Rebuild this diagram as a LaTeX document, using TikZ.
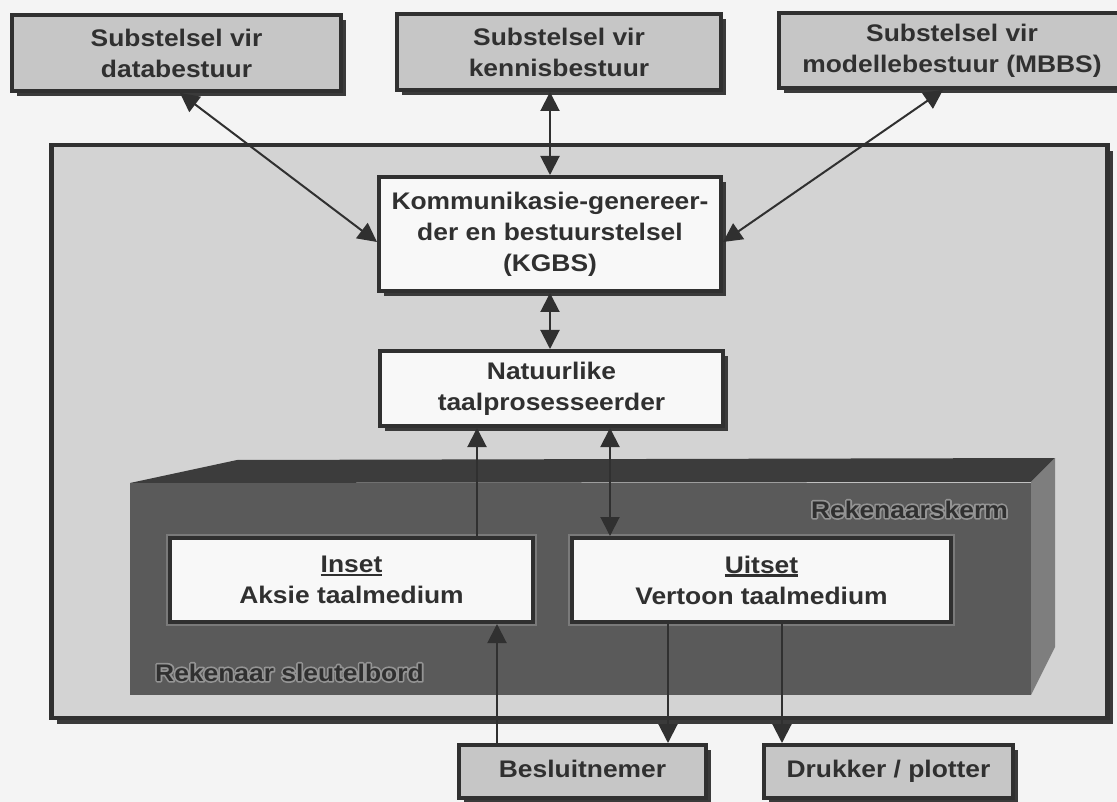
\documentclass[tikz,border=0pt]{standalone}
\usepackage{fontspec}
\setmainfont{Liberation Sans}[FakeStretch=1.1]
\usetikzlibrary{arrows.meta,shadows}

\definecolor{pagebg}{HTML}{F4F4F4}
\definecolor{ink}{HTML}{303030}
\definecolor{boxgrey}{HTML}{C6C6C6}
\definecolor{panelgrey}{HTML}{D3D3D3}
\definecolor{shade}{HTML}{3A3A3A}
\definecolor{frontface}{HTML}{5A5A5A}
\definecolor{topface}{HTML}{3C3C3C}
\definecolor{sideface}{HTML}{7E7E7E}
\definecolor{glowgrey}{HTML}{7A7A7A}
\definecolor{paperwhite}{HTML}{F8F8F8}

\newcommand\bxfont{\fontsize{24}{31}\selectfont\bfseries}
\newcommand\ulword[1]{\setbox0\hbox{#1}\rlap{\rule[-3.5pt]{\wd0}{2.2pt}}\box0}
% light outline drawn behind dark lettering (stroke-only text rendering)
\newcommand\halolayer[1]{\special{pdf:literal direct 1 Tr 1 j 3.4 w 0.58 G}#1\special{pdf:literal direct 0 Tr 0 j 0.188 G}}

\tikzset{
  box/.style={draw=ink, line width=4pt, text=ink, font=\bxfont, align=center, inner sep=0pt},
  shadowed/.style={drop shadow={shadow xshift=5pt, shadow yshift=-5pt, fill=shade, opacity=1}},
  greybox/.style={box, shadowed, fill=boxgrey},
  whitebox/.style={box, shadowed, fill=paperwhite},
  mediumbox/.style={box, fill=paperwhite, preaction={draw=glowgrey, line width=8pt}},
  panelbox/.style={draw=ink, line width=4.5pt, fill=panelgrey,
    drop shadow={shadow xshift=6pt, shadow yshift=-6pt, fill=shade, opacity=1}},
  link/.style={draw=ink, line width=2pt},
  twoway/.style={link, {Triangle[width=19pt,length=19pt]}-{Triangle[width=19pt,length=19pt]}},
  oneway/.style={link, -{Triangle[width=19pt,length=19pt]}},
  glowlabel/.style={text=ink, font=\bxfont, inner sep=0pt}
}

\begin{document}
\begin{tikzpicture}[x=1pt,y=-1pt]
\useasboundingbox (0,0) rectangle (1117,802);
\clip (0,0) rectangle (1117,802);
\fill[pagebg] (0,0) rectangle (1117,802);

% outer panel
\node[panelbox, minimum width=1056pt, minimum height=573pt] (pn) at (579.25,431.5) {};

% the three subsystems at the top
\node[greybox, minimum width=329pt, minimum height=76pt] (db) at (176.5,53)
  {Substelsel vir\\databestuur};
\node[greybox, minimum width=324pt, minimum height=76pt] (kn) at (559,52)
  {Substelsel vir\\kennisbestuur};
\node[greybox, minimum width=346pt, minimum height=75pt] (mb) at (952,50.5)
  {Substelsel vir\\modellebestuur (MBBS)};

% central components
\node[whitebox, minimum width=342pt, minimum height=114pt] (kg) at (550,234)
  {Kommunikasie-genereer-\\der en bestuurstelsel\\(KGBS)};
\node[whitebox, minimum width=343pt, minimum height=75pt] (nt) at (551.5,388.5)
  {Natuurlike\\taalprosesseerder};

% computer block drawn as a solid
\fill[topface] (130,483) -- (237,460) -- (1055,458) -- (1031,482) -- cycle;
\fill[sideface] (1031,482) -- (1055,458) -- (1055,647) -- (1031,695) -- cycle;
\fill[frontface] (130,483) rectangle (1031,695);

\node[mediumbox, minimum width=363pt, minimum height=84pt] (in) at (351.5,580)
  {\ulword{Inset}\\Aksie taalmedium};
\node[mediumbox, minimum width=379pt, minimum height=84pt] (ut) at (761.5,580)
  {\ulword{Uitset}\\Vertoon taalmedium};

% users and devices below
\node[greybox, minimum width=247pt, minimum height=53pt] (bs) at (582.5,771.5)
  {\raisebox{6pt}{Besluitnemer}};
\node[greybox, minimum width=249pt, minimum height=53pt] (dr) at (888.5,771.5)
  {\raisebox{6pt}{Drukker / plotter}};

% attachment points
\path ([xshift=3.5pt]db.south) coordinate (dbA);
\path ([xshift=-9pt]mb.south) coordinate (mbA);
\path ([yshift=-8pt]kg.west) coordinate (kgL);
\path ([yshift=-8pt]kg.east) coordinate (kgR);
\path ([xshift=-74.5pt]nt.south) coordinate (ntL);
\path ([xshift=58.5pt]nt.south) coordinate (ntR);
\path ([xshift=-85.5pt]bs.north) coordinate (bsL);
\path ([xshift=85.5pt]bs.north) coordinate (bsR);
\path ([xshift=-106.5pt]dr.north) coordinate (drL);

% connectors
\draw[twoway] (dbA) -- (kgL);
\draw[twoway] (mbA) -- (kgR);
\draw[twoway] (kn.south -| kg.north) -- (kg.north);
\draw[twoway] (kg.south) -- (kg.south |- nt.north);
\draw[oneway] (in.north -| ntL) -- (ntL);
\draw[twoway] (ntR) -- (ut.north -| ntR);
\draw[oneway] (bsL) -- (in.south -| bsL);
\draw[oneway] (ut.south -| bsR) -- (bsR);
\draw[oneway] (ut.south -| drL) -- (drL);

% labels on the computer block: light outline first, lettering on top
\node[glowlabel, anchor=base east] (scrhalo) at (1008,518) {\halolayer{Rekenaarskerm}};
\node[glowlabel, anchor=base east] (scr) at (1008,518) {Rekenaarskerm};
\node[glowlabel, anchor=base west] (kbdhalo) at (155,681) {\halolayer{Rekenaar sleutelbord}};
\node[glowlabel, anchor=base west] (kbd) at (155,681) {Rekenaar sleutelbord};
\end{tikzpicture}
\end{document}
